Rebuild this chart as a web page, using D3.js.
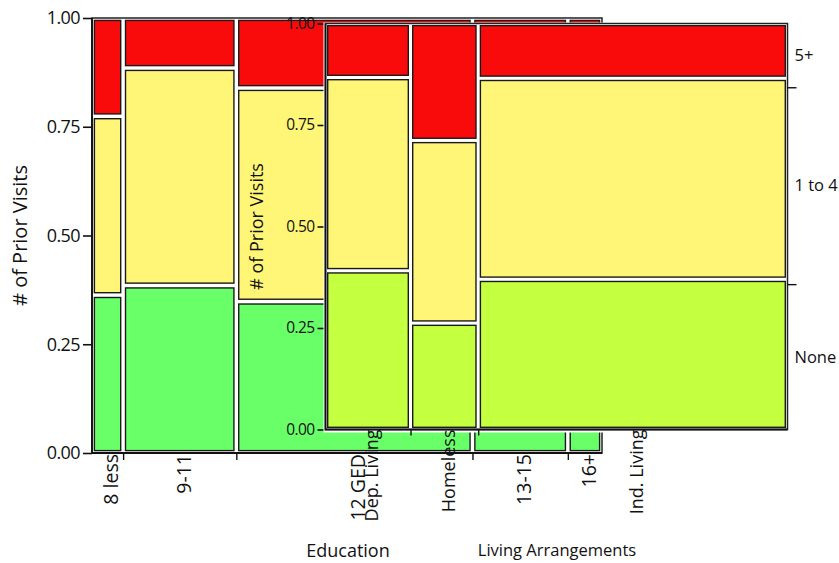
<!DOCTYPE html>
<html>
<head>
<meta charset="utf-8">
<script src="https://cdn.jsdelivr.net/npm/d3@7"></script>
<style>
  body { margin: 0; background: #fff; }
  text { font-family: "Open Sans", "Noto Sans", sans-serif; fill: #111; }
</style>
</head>
<body>
<svg id="chart" width="839" height="563"></svg>
<script>
// Response levels, stacked from the bottom of each column
const visitLevels = ["None", "1 to 4", "5+"];
const yTicks = [0, 0.25, 0.5, 0.75, 1];

// Education mosaic: column share (%) and row proportions per column
const educationCats = ["8 less", "9-11", "12 GED", "13-15", "16+"];
const educationShare = [6.1, 22.2, 46.3, 18.7, 6.7];
const educationNone = [0.363, 0.385, 0.348, 0.380, 0.400];
const educationOneToFour = [0.411, 0.500, 0.491, 0.470, 0.480];
const educationFivePlus = [0.226, 0.115, 0.161, 0.150, 0.120];

// Living arrangements mosaic
const livingCats = ["Dep. Living", "Homeless", "Ind. Living"];
const livingShare = [18.4, 14.65, 66.95];
const livingNone = [0.391, 0.262, 0.370];
const livingOneToFour = [0.476, 0.450, 0.495];
const livingFivePlus = [0.133, 0.288, 0.135];

const svg = d3.select("#chart");

function buildColumns(cats, share, none, mid, high) {
  return cats.map((c, i) => ({
    cat: c, share: share[i],
    "None": none[i], "1 to 4": mid[i], "5+": high[i]
  }));
}

function drawMosaic(g, o) {
  const cols = buildColumns(o.cats, o.share, o.none, o.mid, o.high);
  const total = d3.sum(cols, d => d.share);
  const cum = d3.cumsum(cols, d => d.share);
  cols.forEach((d, i) => { d.x0 = i ? cum[i - 1] : 0; d.x1 = cum[i]; });

  const x = d3.scaleLinear().domain([0, total]).range([o.left, o.right]);
  const y = d3.scaleLinear().domain([0, 1]).range([o.bottom, o.top]);
  const color = d3.scaleOrdinal().domain(visitLevels).range(o.colors);
  const stacked = d3.stack().keys(visitLevels)(cols);
  const inset = o.inset;

  // y axis title
  g.append("text")
    .attr("transform", `translate(${o.yTitleX},${(o.top + o.bottom) / 2}) rotate(-90)`)
    .attr("text-anchor", "middle")
    .attr("dy", "0.35em")
    .style("font-size", o.yTitleSize + "px")
    .text(o.yTitle);

  // left axis with ticks
  const yAxis = g.append("g")
    .attr("transform", `translate(${o.left},0)`)
    .call(d3.axisLeft(y).tickValues(yTicks).tickFormat(d3.format(".2f"))
      .tickSize(o.tickLen).tickSizeOuter(0).tickPadding(3));
  yAxis.select(".domain").remove();
  yAxis.selectAll(".tick line").attr("stroke", "#111").attr("stroke-width", 1.6);
  yAxis.selectAll(".tick text")
    .style("font-family", '"Open Sans", sans-serif')
    .style("font-size", o.tickSize + "px")
    .style("letter-spacing", "-0.6px")
    .attr("fill", "#111");

  // plot background and frame
  if (o.backdrop) {
    g.append("rect")
      .attr("x", o.left - 2).attr("y", o.top - 1)
      .attr("width", o.right - o.left + 4).attr("height", o.bottom - o.top + 4)
      .attr("fill", "#fff");
  }
  g.append("rect")
    .attr("x", o.left).attr("y", o.top)
    .attr("width", o.right - o.left).attr("height", o.bottom - o.top)
    .attr("fill", "#fff").attr("stroke", "#222").attr("stroke-width", 1.5);

  // mosaic cells
  g.append("g").selectAll("g").data(stacked).join("g")
    .attr("fill", s => color(s.key))
    .selectAll("rect").data(s => s).join("rect")
      .attr("x", d => x(d.data.x0) + inset)
      .attr("width", d => x(d.data.x1) - x(d.data.x0) - 2 * inset)
      .attr("y", d => y(d[1]) + inset)
      .attr("height", d => y(d[0]) - y(d[1]) - 2 * inset)
      .attr("stroke", "#1a1a1a").attr("stroke-width", 1.4);

  // axis lines on left and bottom
  g.append("path")
    .attr("d", `M${o.left},${o.top}V${o.bottom}H${o.right}`)
    .attr("fill", "none").attr("stroke", "#111").attr("stroke-width", 1.8);

  // ticks between columns
  const bx = g.append("g")
    .attr("transform", `translate(0,${o.bottom})`)
    .call(d3.axisBottom(x).tickValues(cum.slice(0, -1)).tickFormat("")
      .tickSize(o.xTickLen).tickSizeOuter(0));
  bx.select(".domain").remove();
  bx.selectAll(".tick line").attr("stroke", "#111").attr("stroke-width", 1.4);

  // rotated column labels
  g.append("g").selectAll("text").data(cols).join("text")
    .attr("transform", d => `translate(${x((d.x0 + d.x1) / 2) + o.labelShift},${o.bottom + o.labelGap}) rotate(-90)`)
    .attr("text-anchor", "end")
    .attr("dy", "0.35em")
    .style("font-size", o.labelSize + "px")
    .text(d => d.cat);

  // x axis title
  g.append("text")
    .attr("x", o.xTitleX).attr("y", o.xTitleY)
    .attr("text-anchor", "middle")
    .style("font-size", o.xTitleSize + "px")
    .text(o.xTitle);

  // right side: marginal level boundaries and level names
  if (o.rightLabels) {
    const marg = visitLevels.map(k => d3.sum(cols, d => d.share * d[k]) / total);
    const margCum = d3.cumsum(marg);
    const ry = g.append("g")
      .attr("transform", `translate(${o.right},0)`)
      .call(d3.axisRight(y).tickValues(margCum.slice(0, -1)).tickFormat("")
        .tickSize(9).tickSizeOuter(0));
    ry.select(".domain").remove();
    ry.selectAll(".tick line").attr("stroke", "#111").attr("stroke-width", 1.4);
    g.append("g").selectAll("text").data(visitLevels).join("text")
      .attr("x", o.right + 7)
      .attr("y", (k, i) => y(((i ? margCum[i - 1] : 0) + margCum[i]) / 2))
      .attr("dy", "0.35em")
      .style("font-size", o.rightSize + "px")
      .text(k => k);
  }
}

// Education mosaic (behind)
drawMosaic(svg.append("g"), {
  cats: educationCats, share: educationShare,
  none: educationNone, mid: educationOneToFour, high: educationFivePlus,
  left: 92, right: 602, top: 18, bottom: 453,
  inset: 2.4, tickLen: 9, tickSize: 18, xTickLen: 7,
  colors: ["#69ff69", "#fff677", "#fa0b0b"],
  yTitle: "# of Prior Visits", yTitleX: 20, yTitleSize: 20,
  labelShift: 4, labelGap: 1, labelSize: 19.5,
  xTitle: "Education", xTitleX: 348, xTitleY: 557, xTitleSize: 18,
  backdrop: false, rightLabels: false
});

// Living arrangements mosaic (in front)
drawMosaic(svg.append("g"), {
  cats: livingCats, share: livingShare,
  none: livingNone, mid: livingOneToFour, high: livingFivePlus,
  left: 325.5, right: 787.5, top: 23.5, bottom: 429.5,
  inset: 2.2, tickLen: 8, tickSize: 15.5, xTickLen: 6,
  colors: ["#c4ff40", "#fff677", "#fa0b0b"],
  yTitle: "# of Prior Visits", yTitleX: 257, yTitleSize: 18,
  labelShift: 4, labelGap: 0, labelSize: 18,
  xTitle: "Living Arrangements", xTitleX: 557, xTitleY: 556, xTitleSize: 16.5,
  backdrop: true, rightLabels: true, rightSize: 16.5
});
</script>
</body>
</html>
